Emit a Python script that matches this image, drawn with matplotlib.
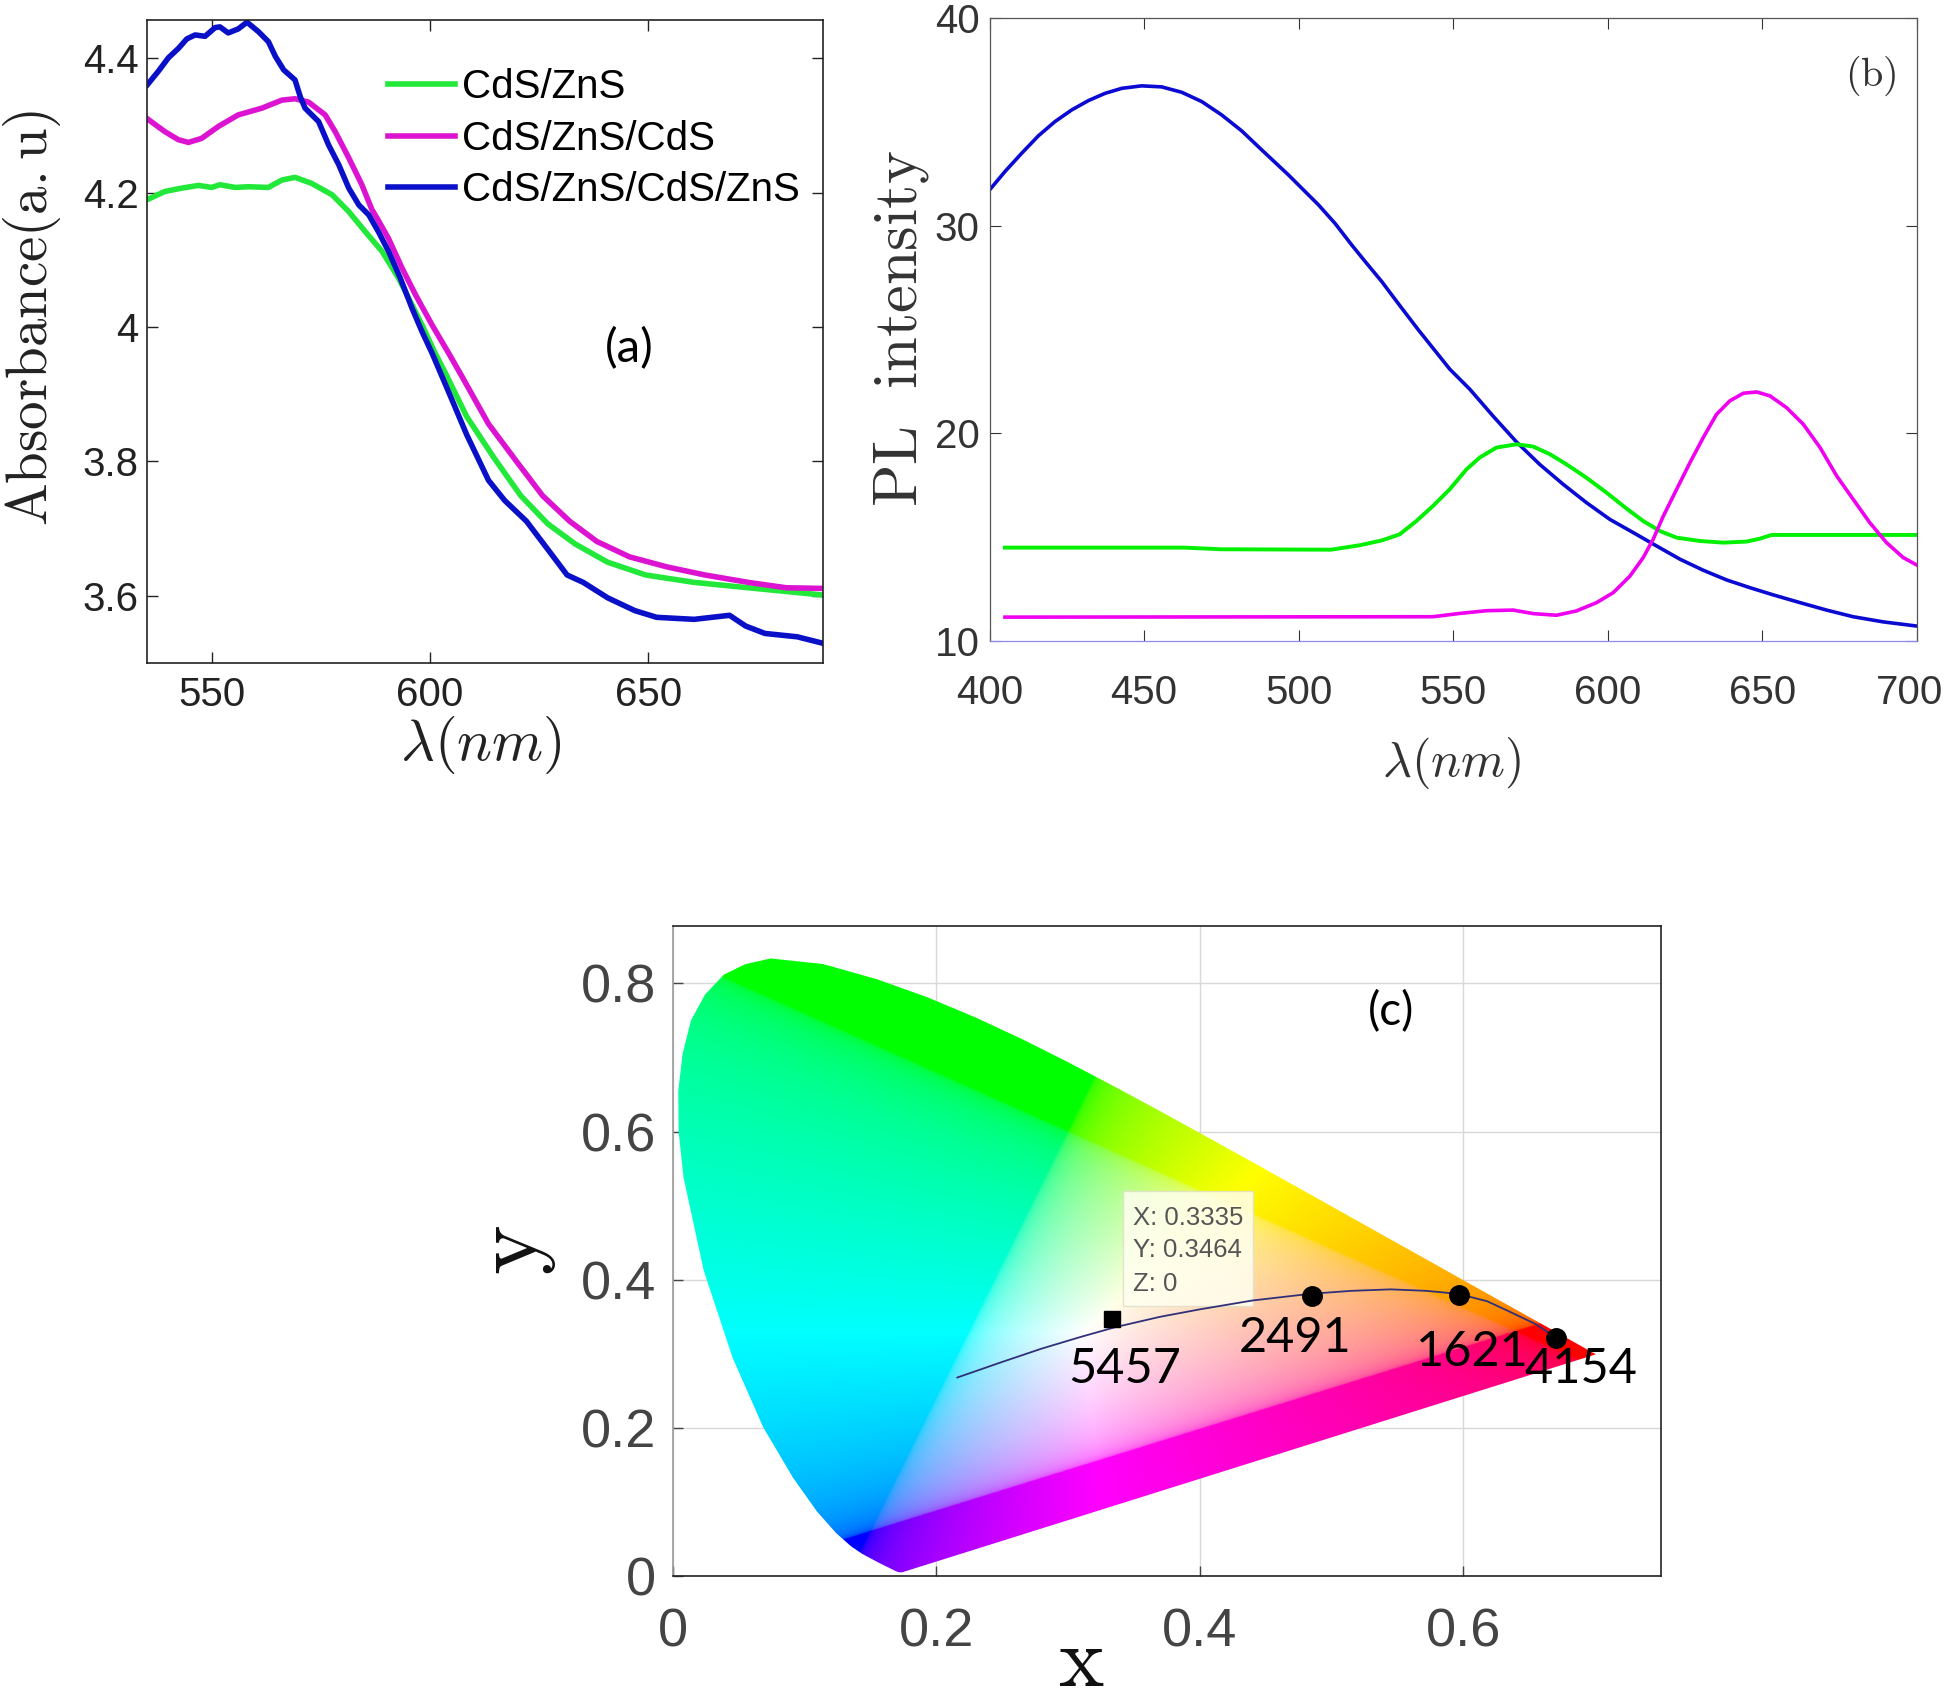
import numpy as np
import matplotlib
matplotlib.use("Agg")
import matplotlib.pyplot as plt
import matplotlib.transforms as mtrans
from matplotlib.patches import Polygon, Rectangle

plt.rcParams['mathtext.fontset'] = 'cm'
W, H = 1946, 1707

# Panel (a)
a_legend = ["CdS/ZnS", "CdS/ZnS/CdS", "CdS/ZnS/CdS/ZnS"]
a_green_x = [535.3,539.3,543.2,547,550,551.9,555.4,558.4,563,566.1,569.1,572.9,577.6,581.4,585.2,589,592.8,595.9,598.2,601.2,603.5,608.4,614.6,620.8,627,633.3,640.7,649.4,660.5,672.9,690.2]
a_green_y = [4.19,4.202,4.207,4.211,4.208,4.212,4.208,4.209,4.208,4.219,4.223,4.214,4.197,4.172,4.142,4.113,4.073,4.033,4.003,3.961,3.932,3.867,3.806,3.749,3.707,3.677,3.65,3.631,3.62,3.612,3.601]
a_mag_x = [535.3,539.3,542.4,544.7,547.7,551.6,556.1,561.5,566.1,569.1,572.2,576,578.3,581.4,584.4,586.7,587.9,590.5,593.6,596.7,600.5,604.3,607.2,613.4,619.6,625.8,632,638.2,645.7,654.3,663,672.9,681.6,690.2]
a_mag_y = [4.31,4.291,4.279,4.275,4.281,4.299,4.316,4.326,4.338,4.34,4.335,4.316,4.291,4.252,4.212,4.175,4.162,4.132,4.088,4.048,4.003,3.961,3.928,3.856,3.802,3.749,3.711,3.681,3.658,3.643,3.631,3.62,3.612,3.611]
a_blue_x = [535.3,537.8,540.1,542.4,544.3,546.2,548.5,550.8,551.9,553.8,556.1,558.1,560.7,563,564.6,566.5,569.1,570.3,571.4,574.5,576.8,579.1,581.4,583.7,586,588.2,590.5,593.2,595.9,598.2,600.5,604.7,608.4,613.4,617.1,622.1,627,631.4,635.1,640.7,646.9,651.9,660.5,668.6,672.3,676.7,684.1,690.2]
a_blue_y = [4.361,4.381,4.401,4.415,4.429,4.435,4.433,4.446,4.447,4.438,4.444,4.454,4.44,4.425,4.403,4.383,4.368,4.343,4.326,4.306,4.271,4.242,4.207,4.182,4.167,4.142,4.113,4.073,4.028,3.993,3.961,3.897,3.84,3.772,3.742,3.711,3.669,3.631,3.62,3.597,3.578,3.568,3.565,3.571,3.555,3.544,3.539,3.529]
a_xticks = [550, 600, 650]
a_yticks = [3.6, 3.8, 4.0, 4.2, 4.4]
a_yticklabels = ["3.6", "3.8", "4", "4.2", "4.4"]

# Panel (b)
b_blue_x = [400,405,410.4,415.8,421.2,426.6,432,437.4,442.8,449.2,455.7,462.2,468.7,475.1,481.6,488.1,496.7,501,506.4,511.8,517.2,522,526.9,532.8,538.7,548.9,555.4,562.9,570.5,578,585.6,593.1,600.7,608.3,615.8,623.4,630.9,638.5,646,653.6,662.2,670.8,679.4,689.2,700]
b_blue_y = [31.73,32.62,33.5,34.34,35.03,35.59,36.04,36.39,36.63,36.75,36.7,36.44,35.99,35.35,34.58,33.66,32.46,31.82,31.02,30.12,29.08,28.2,27.32,26.15,25.0,23.1,22.13,20.84,19.59,18.51,17.55,16.67,15.86,15.22,14.58,13.94,13.41,12.94,12.57,12.22,11.85,11.49,11.17,10.92,10.72]
b_green_x = [405,463,475,510.5,520,527,532.7,538.1,543.5,548.9,554.3,558.6,564,570.5,575.9,581.3,586.7,593.1,599.6,606.1,611.5,616.9,622.3,629.8,637.4,644.9,649.2,653,700]
b_green_y = [14.5,14.5,14.42,14.4,14.62,14.85,15.14,15.78,16.51,17.31,18.27,18.84,19.32,19.48,19.37,19,18.51,17.87,17.15,16.38,15.78,15.3,14.98,14.82,14.74,14.79,14.93,15.11,15.11]
b_mag_x = [405,543.5,552.2,560.8,569.4,575.9,583.4,589.9,596.4,601.8,607.2,611.5,614.7,618,622.3,626.6,630.9,635.2,639.5,643.9,648.2,652.5,657.9,663.3,668.7,674.1,679.4,684.8,690.2,695.6,700]
b_mag_y = [11.15,11.17,11.33,11.46,11.49,11.32,11.24,11.45,11.85,12.33,13.13,14.02,14.9,16.02,17.31,18.59,19.8,20.92,21.57,21.94,22,21.81,21.24,20.44,19.32,17.95,16.83,15.7,14.74,14.02,13.66]
b_xticks = [400, 450, 500, 550, 600, 650, 700]
b_yticks = [10, 20, 30, 40]

# Panel (c)
locus_x = [.1741,.1714,.1689,.1644,.1566,.1440,.1355,.1241,.1096,.0913,.0687,.0454,.0235,.0082,.0045,.0042,.0075,.0139,.0245,.0389,.0550,.0743,.1142,.1547,.1929,.2296,.2658,.3016,.3373,.3731,.4087,.4441,.4788,.5125,.5448,.5752,.6029,.6270,.6482,.6658,.6801,.6915,.7006]
locus_y = [.0050,.0051,.0069,.0109,.0177,.0297,.0399,.0578,.0868,.1327,.2007,.2950,.4127,.5384,.6000,.6548,.7050,.7502,.7850,.8120,.8260,.8338,.8262,.8059,.7816,.7543,.7243,.6923,.6589,.6245,.5896,.5547,.5202,.4866,.4544,.4242,.3965,.3725,.3514,.3340,.3197,.3083,.2993]
curve_x = [.216,.25,.28,.31,.336,.37,.40,.44,.484,.515,.545,.572,.596,.618,.635,.655,.67]
curve_y = [.268,.289,.307,.323,.336,.350,.360,.372,.381,.385,.387,.385,.381,.371,.357,.340,.322]
cct_x = [.3335,.485,.597,.67]
cct_y = [.3464,.378,.38,.322]
cct_labels = ["5457","2491","1621","4154"]
cct_label_x = [.343,.472,.607,.689]
cct_label_y = [.280,.322,.303,.279]
tip_lines = ["X: 0.3335", "Y: 0.3464", "Z: 0"]
c_xticks = [0, .2, .4, .6]
c_yticks = [0, .2, .4, .6, .8]

def axes_px(fig, l, t, r, b):
    return fig.add_axes([l/W, 1-b/H, (r-l)/W, (b-t)/H])

def center_labels(ax):
    ax.xaxis.label.set_va('center')
    ax.yaxis.label.set_va('center')

fig = plt.figure(figsize=(W/100, H/100), dpi=100, facecolor='white')

# ---------- (a)
ax = axes_px(fig, 147, 19.5, 823, 663)
ax.plot(a_green_x, a_green_y, color='#22e83a', lw=4.0, label=a_legend[0])
ax.plot(a_mag_x, a_mag_y, color='#dc14d2', lw=4.0, label=a_legend[1])
ax.plot(a_blue_x, a_blue_y, color='#0a10c8', lw=4.0, label=a_legend[2])
ax.set_xlim(535.2, 690)
ax.set_ylim(3.5, 4.458)
ax.set_xticks(a_xticks)
ax.set_yticks(a_yticks, a_yticklabels)
ax.tick_params(direction='in', top=True, right=True, length=8, width=1, labelsize=29, colors='#222222')
ax.tick_params(axis='x', pad=9)
ax.tick_params(axis='y', pad=6)
for t in ax.get_xticklabels() + ax.get_yticklabels():
    t.set_family('Liberation Sans')
for s in ax.spines.values():
    s.set_linewidth(1.2); s.set_color('#222222')
ax.legend(loc='upper left', bbox_to_anchor=(0.356, 0.924), frameon=False, borderpad=0, borderaxespad=0,
          prop={'family': 'Liberation Sans', 'size': 29}, labelspacing=0.33, handlelength=1.66, handletextpad=0.19)
ax.text(0.713, 0.488, "(a)", transform=ax.transAxes, ha='center', va='center', family='Lato', fontsize=34, color='black')
ax.set_xlabel(r'$\lambda(nm)$', fontsize=42, color='#222222')
ax.xaxis.set_label_coords(0.494, -0.127)
ax.set_ylabel(r'$\mathrm{Absorbance(a{.}u)}$', fontsize=41, color='#222222')
ax.yaxis.set_label_coords(-0.170, 0.537)
center_labels(ax)

# ---------- (b)
ax = axes_px(fig, 989.5, 18.4, 1916.8, 641)
ax.plot(b_blue_x, b_blue_y, color='#0a0ad2', lw=2.6)
ax.plot(b_green_x, b_green_y, color='#00f000', lw=2.8)
ax.plot(b_mag_x, b_mag_y, color='#f000f0', lw=2.6)
ax.set_xlim(400, 700)
ax.set_ylim(10, 40)
ax.set_xticks(b_xticks)
ax.set_yticks(b_yticks)
ax.tick_params(direction='in', top=True, right=True, length=8, width=0.8, labelsize=29, colors='#333333')
ax.tick_params(axis='x', pad=24)
ax.tick_params(axis='y', pad=7)
for t in ax.get_xticklabels() + ax.get_yticklabels():
    t.set_family('Liberation Sans')
last = ax.get_xticklabels()[-1]
last.set_transform(last.get_transform() + mtrans.ScaledTranslation(-7/100, 0, fig.dpi_scale_trans))
for s in ax.spines.values():
    s.set_linewidth(0.9); s.set_color('#555555')
ax.spines['bottom'].set_color('#8c8cf0')
ax.text(0.95, 0.907, r'$\mathrm{(b)}$', transform=ax.transAxes, ha='center', va='center', fontsize=29, color='#333333')
ax.set_xlabel(r'$\lambda(nm)$', fontsize=36, color='#333333')
ax.xaxis.set_label_coords((1452-989.5)/927.3, -(763-641)/622.6)
ax.set_ylabel(r'$\mathrm{PL\ \ intensity}$', fontsize=45, color='#333333')
ax.yaxis.set_label_coords((901-989.5)/927.3, (641-329)/622.6)
center_labels(ax)

# ---------- (c)
ax = axes_px(fig, 672.7, 925.7, 1661, 1576)
xg, yg = np.meshgrid(np.linspace(0.001, 0.75, 750), np.linspace(0.001, 0.88, 880))
Xc, Yc, Zc = xg/yg, np.ones_like(xg), (1-xg-yg)/yg
R = 3.2406*Xc - 1.5372*Yc - 0.4986*Zc
G = -0.9689*Xc + 1.8758*Yc + 0.0415*Zc
B = 0.0557*Xc - 0.2040*Yc + 1.0570*Zc
rgb = np.clip(np.dstack([R, G, B]), 0, None)
rgb = rgb / rgb.max(axis=2, keepdims=True)
rgb = np.dstack([rgb[..., 0]**(1/3.0), rgb[..., 1]**(1/5.0), rgb[..., 2]**(1/4.0)])
im = ax.imshow(rgb, origin='lower', extent=(0.001, 0.75, 0.001, 0.88), aspect='auto', interpolation='bilinear', zorder=2)
poly = Polygon(np.column_stack([locus_x, locus_y]), closed=True, transform=ax.transData, fc='none', ec='none')
ax.add_patch(poly)
im.set_clip_path(poly)
ax.set_xlim(0, 0.75)
ax.set_ylim(0, 0.878)
ax.set_xticks(c_xticks)
ax.set_xticklabels(['0', '0.2', '0.4', '0.6'])
ax.set_yticks(c_yticks)
ax.set_yticklabels(['0', '0.2', '0.4', '0.6', '0.8'])
ax.grid(True, color='#d8d8d8', lw=1.0, zorder=1)
ax.set_axisbelow(True)
ax.tick_params(direction='in', length=7, width=1, labelsize=39, colors='#444444')
ax.tick_params(axis='x', pad=23)
ax.tick_params(axis='y', pad=12)
for t in ax.get_xticklabels() + ax.get_yticklabels():
    t.set_family('Liberation Sans')
for s in ax.spines.values():
    s.set_linewidth(1.2); s.set_color('#222222')
ax.spines['left'].set_color('#999999')
ax.add_patch(Rectangle((0.342, 0.364), 0.098, 0.156, fc='#fffff0', ec='#e0e0c8', alpha=0.85, lw=1, zorder=3))
for yy, s in zip([0.484, 0.44, 0.394], tip_lines):
    ax.text(0.349, yy, s, fontsize=18.5, family='Liberation Sans', color='#555555', va='center', zorder=4)
ax.plot(curve_x, curve_y, color='#30307a', lw=1.3, zorder=5)
ax.plot(cct_x[:1], cct_y[:1], 's', color='black', ms=12, zorder=6)
ax.plot(cct_x[1:], cct_y[1:], 'o', color='black', ms=14, zorder=6)
for x, y, s in zip(cct_label_x, cct_label_y, cct_labels):
    ax.text(x, y, s, ha='center', va='center', family='Lato', fontsize=35, color='black', zorder=7)
ax.text(0.727, 0.868, "(c)", transform=ax.transAxes, ha='center', va='center', family='Lato', fontsize=33, color='black', zorder=7)
ax.set_xlabel(r'$\mathrm{x}$', fontsize=62, color='#111111')
ax.xaxis.set_label_coords((1081-672.7)/988.3, -(1662-1576)/650.3)
ax.set_ylabel(r'$\mathrm{y}$', fontsize=68, color='#111111')
ax.yaxis.set_label_coords((512-672.7)/988.3, (1576-1250)/650.3)
center_labels(ax)

fig.savefig('out.png', dpi=100)
